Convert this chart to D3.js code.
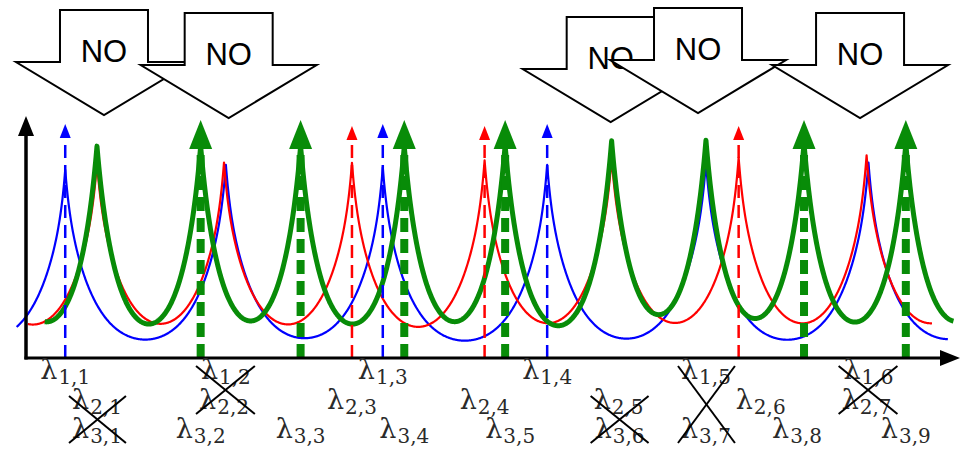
<!DOCTYPE html>
<html>
<head>
<meta charset="utf-8">
<script src="https://cdn.jsdelivr.net/npm/d3@7"></script>
<style>
  body { margin: 0; background: #fff; }
  svg { display: block; }
</style>
</head>
<body>
<div id="chart"></div>
<script>
// ---- data (x in axis units 0..100, heights in 0..1) ----
var bluePeaks    = [4.2, 21.4, 38.2, 55.8, 72.8, 90.2];
var blueHeights  = [0.78, 0.80, 0.79, 0.80, 0.81, 0.81];
var redPeaks     = [7.6, 21.2, 34.9, 49.1, 62.7, 76.3, 90.0];
var redHeights   = [0.80, 0.80, 0.80, 0.81, 0.82, 0.82, 0.83];
var greenPeaks   = [7.6, 18.7, 29.4, 40.5, 51.3, 62.7, 72.8, 83.3, 94.2];
var greenHeights = [0.87, 0.87, 0.87, 0.87, 0.875, 0.89, 0.89, 0.88, 0.88];

// neighbouring peaks that sit just outside the plotted range
var blueOuter  = [-13.1, 107.4];
var redOuter   = [-6.1, 103.7];
var greenOuter = [-3.2, 105.0];

// x range over which each curve is drawn
var blueSpan  = [-1.0, 98.7];
var redSpan   = [0.2, 97.0];
var greenSpan = [2.0, 99.3];

// peaks that are rejected (label crossed out, no arrow), 1-based
var blueRejected  = [2, 5, 6];
var redRejected   = [1, 2, 5, 7];
var greenRejected = [1, 6, 7];

// label pairs struck through by one cross: [series, index]
var crossPairs = [
  [[2, 1], [3, 1]],
  [[1, 2], [2, 2]],
  [[2, 5], [3, 6]],
  [[1, 5], [3, 7]],
  [[1, 6], [2, 7]]
];

// "NO" block arrows above coincident peaks
var noArrowX = [8.35, 21.7, 62.6, 71.95, 89.3];
var noText = "NO";

// ---- layout ----
var W = 960, H = 449;
var noArrowTop = [10, 13, 17, 8, 13];
var labelRows = [379, 409, 438];
var labelNudge = { "2,6": 22, "3,8": -7, "2,5": 7, "3,6": 8, "3,5": 5 };

var x = d3.scaleLinear().domain([0, 100]).range([26, 960]);
var y = d3.scaleLinear().domain([0, 1]).range([358, 118]);

var svg = d3.select("#chart").append("svg")
    .attr("width", W)
    .attr("height", H);

var series = [
  { id: 1, peaks: bluePeaks, heights: blueHeights, outer: blueOuter, span: blueSpan,
    rejected: blueRejected, color: "#0000ff", width: 2.2, alpha: 0.85, w1: 3.0, w2: 0.43,
    tip: 0.975, dash: "13,7", aw: 2.5, hw: 5.5, hh: 14 },
  { id: 2, peaks: redPeaks, heights: redHeights, outer: redOuter, span: redSpan,
    rejected: redRejected, color: "#ff0000", width: 2.2, alpha: 0.85, w1: 3.0, w2: 0.43,
    tip: 0.967, dash: "13,7", aw: 2.5, hw: 5.5, hh: 14 },
  { id: 3, peaks: greenPeaks, heights: greenHeights, outer: greenOuter, span: greenSpan,
    rejected: greenRejected, color: "#088c08", width: 5, alpha: 0.95, w1: 2.25, w2: 0.43,
    tip: 0.992, dash: "14,7", aw: 8, hw: 11.5, hh: 29 }
];

// cusp-shaped peak profile
function kernel(d, s) {
  d = Math.abs(d);
  return s.alpha * Math.exp(-d / s.w1) + (1 - s.alpha) * Math.exp(-d / s.w2);
}

function curvePoints(s) {
  var all = s.peaks.map(function(p, i) { return [p, s.heights[i]]; });
  all.push([s.outer[0], s.heights[0]]);
  all.push([s.outer[1], s.heights[s.heights.length - 1]]);
  var xs = d3.range(s.span[0], s.span[1], 0.05).concat(s.peaks, [s.span[1]]);
  xs.sort(d3.ascending);
  return xs.map(function(v) {
    var sum = 0;
    all.forEach(function(p) { sum += p[1] * kernel(v - p[0], s); });
    return [v, sum];
  });
}

var line = d3.line()
    .x(function(d) { return x(d[0]); })
    .y(function(d) { return y(d[1]); });

// curves
var curves = svg.append("g");
series.forEach(function(s) {
  curves.append("path")
    .attr("d", line(curvePoints(s)))
    .attr("fill", "none")
    .attr("stroke", s.color)
    .attr("stroke-width", s.width)
    .attr("stroke-linejoin", "round");
});

// dashed arrows on accepted peaks
var arrows = svg.append("g");
series.forEach(function(s) {
  s.peaks.forEach(function(p, i) {
    if (s.rejected.indexOf(i + 1) >= 0) return;
    var px = x(p), top = y(s.tip);
    arrows.append("line")
      .attr("x1", px).attr("x2", px)
      .attr("y1", y(0)).attr("y2", top + s.hh - 1)
      .attr("stroke", s.color)
      .attr("stroke-width", s.aw)
      .attr("stroke-dasharray", s.dash);
    arrows.append("path")
      .attr("d", "M" + px + "," + top + "L" + (px + s.hw) + "," + (top + s.hh) +
                 "L" + (px - s.hw) + "," + (top + s.hh) + "Z")
      .attr("fill", s.color);
  });
});

// axes
var axes = svg.append("g");
axes.append("line")
  .attr("x1", x(0)).attr("x2", x(0))
  .attr("y1", y(0) + 1.5).attr("y2", 134)
  .attr("stroke", "#000").attr("stroke-width", 3.5);
axes.append("path")
  .attr("d", "M" + x(0) + ",116L" + (x(0) + 8) + ",136L" + (x(0) - 8) + ",136Z")
  .attr("fill", "#000");
axes.append("line")
  .attr("x1", x(0) - 1.5).attr("x2", x(100) - 18)
  .attr("y1", y(0)).attr("y2", y(0))
  .attr("stroke", "#000").attr("stroke-width", 3);
axes.append("path")
  .attr("d", "M" + x(100) + "," + y(0) + "L" + (x(100) - 20) + "," + (y(0) - 8) +
             "L" + (x(100) - 20) + "," + (y(0) + 8) + "Z")
  .attr("fill", "#000");

// labels
var labels = svg.append("g")
    .attr("fill", "#2a2a2a")
    .attr("font-family", "'DejaVu Serif', serif");
var labelNodes = {};
series.forEach(function(s) {
  s.peaks.forEach(function(p, i) {
    var key = s.id + "," + (i + 1);
    var t = labels.append("text")
      .attr("x", x(p) + (labelNudge[key] || 0))
      .attr("y", labelRows[s.id - 1])
      .attr("text-anchor", "middle");
    t.append("tspan")
      .attr("font-size", 27)
      .text("λ");
    t.append("tspan")
      .attr("font-size", 20)
      .attr("dx", 1)
      .attr("dy", 5)
      .text(key);
    labelNodes[key] = t.node();
  });
});

// crosses over rejected labels
var crosses = svg.append("g")
    .attr("stroke", "#000")
    .attr("stroke-width", 2);
crossPairs.forEach(function(pair) {
  var a = labelNodes[pair[0].join(",")].getBBox();
  var b = labelNodes[pair[1].join(",")].getBBox();
  var x0 = Math.min(a.x, b.x) - 3, x1 = Math.max(a.x + a.width, b.x + b.width) + 4;
  var y0 = labelRows[pair[0][0] - 1] - 13, y1 = labelRows[pair[1][0] - 1] + 5;
  crosses.append("line").attr("x1", x0).attr("y1", y0).attr("x2", x1).attr("y2", y1);
  crosses.append("line").attr("x1", x1).attr("y1", y0).attr("x2", x0).attr("y2", y1);
});

// "NO" block arrows
var shaftHalf = 44, headHalf = 88, shaftLen = 52, headLen = 53;
var blocks = svg.append("g");
noArrowX.forEach(function(v, i) {
  var cx = x(v), top = noArrowTop[i];
  var pts = [
    [cx - shaftHalf, top], [cx + shaftHalf, top], [cx + shaftHalf, top + shaftLen],
    [cx + headHalf, top + shaftLen], [cx, top + shaftLen + headLen],
    [cx - headHalf, top + shaftLen], [cx - shaftHalf, top + shaftLen]
  ];
  var g = blocks.append("g");
  g.append("polygon")
    .attr("points", pts.map(function(p) { return p.join(","); }).join(" "))
    .attr("fill", "#fff")
    .attr("stroke", "#000")
    .attr("stroke-width", 2);
  g.append("text")
    .attr("x", cx)
    .attr("y", top + 52)
    .attr("text-anchor", "middle")
    .attr("font-family", "'Liberation Sans', Arial, sans-serif")
    .attr("font-size", 31)
    .text(noText);
});
</script>
</body>
</html>
